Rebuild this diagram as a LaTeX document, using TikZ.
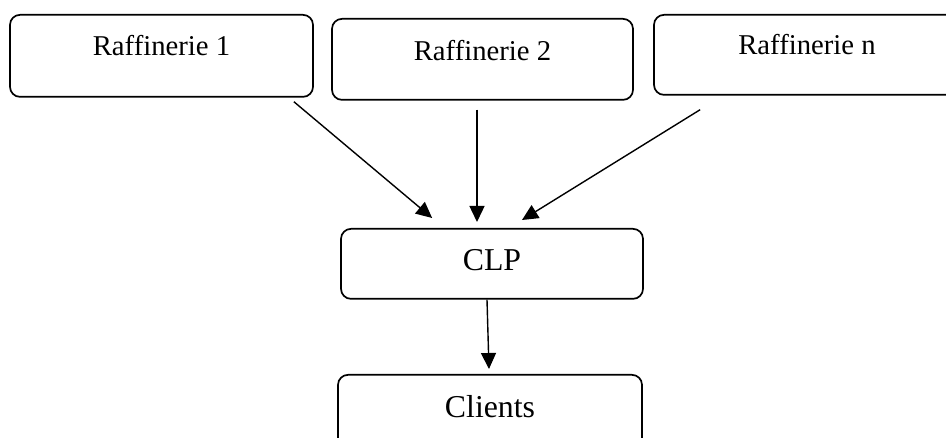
\documentclass[tikz,border=0pt]{standalone}
\usepackage{fontspec}
\setmainfont{Liberation Serif}
\usetikzlibrary{arrows.meta,calc}

\begin{document}
\begin{tikzpicture}[x=1pt,y=-1pt,
  box/.style={draw, line width=1.7pt, rounded corners=10pt, inner sep=0pt, anchor=north},
  small/.style={font=\fontsize{28.7}{30}\selectfont},
  large/.style={font=\fontsize{31.8}{34}\selectfont},
  flow/.style={line width=1.4pt, -{Triangle[length=16pt,width=15pt]}}]
\useasboundingbox (0,0) rectangle (946,438);

% refineries
\node[box, small, minimum width=303pt, text height=41pt, text depth=41pt] (r1) at (161.5,14) {Raffinerie 1};
\node[box, small, minimum width=301pt, text height=42pt, text depth=39pt] (r2) at (482.5,18) {Raffinerie 2};
\node[box, small, minimum width=306pt, text height=40pt, text depth=40pt] (rn) at (807,14) {Raffinerie n};

% storage centre and clients
\node[box, large, minimum width=302pt, text height=42pt, text depth=28pt] (clp) at (492,228) {CLP};
\node[box, large, minimum width=304pt, text height=43pt, text depth=40pt] (cl) at (490,374) {Clients};

% flows
\draw[flow] ($(r1.south east)+(-20,4)$) -- ($(clp.north west)+(92,-10)$);
\draw[flow] ($(r2.south)+(-5.5,9)$) -- ($(clp.north)+(-15,-6)$);
\draw[flow] ($(rn.south west)+(47,14)$) -- ($(clp.north)+(30,-8)$);
\draw[flow] ($(clp.south)+(-5,0)$) -- ($(cl.north)+(-1,-5)$);
\end{tikzpicture}
\end{document}
